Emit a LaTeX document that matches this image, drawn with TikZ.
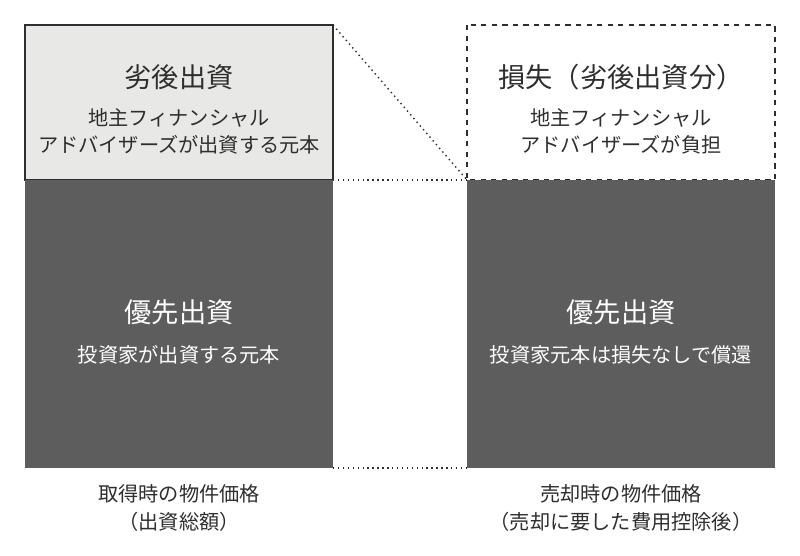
\documentclass[tikz,border=0pt]{standalone}
\usepackage{fontspec}
\setmainfont{Noto Sans CJK JP}
\usetikzlibrary{positioning}
\definecolor{lightbox}{HTML}{E8E8E6}
\definecolor{darkbox}{HTML}{5E5D5D}
\definecolor{ink}{HTML}{2E2E2E}
\begin{document}
\begin{tikzpicture}[x=0.02cm,y=-0.02cm,
  title/.style={font=\fontsize{15.5}{18}\selectfont},
  sub/.style={font=\fontsize{11.5}{15.5}\selectfont,align=center},
  caption/.style={font=\fontsize{11.5}{15.5}\selectfont,align=center,text=ink}]
				\useasboundingbox (0,0) rectangle (800,555);
				% left column
				\draw[ink,fill=lightbox,line width=0.6pt] (25,25) rectangle (333,180);
				\fill[darkbox] (25,180) rectangle (333,468);
				% right column
				\draw[ink,dashed,line width=0.6pt] (467,25) rectangle (775,180);
				\fill[darkbox] (467,180) rectangle (775,468);
				% connecting dotted lines
				\coordinate (lt) at (333,25);
				\coordinate (lm) at (333,180);
				\coordinate (lb) at (333,468);
				\coordinate (rm) at (467,180);
				\coordinate (rb) at (467,468);
				\draw[ink,dotted,line width=0.8pt] (lt) -- (rm);
				\draw[ink,dotted,line width=0.8pt] (lm) -- (rm);
				\draw[ink,dotted,line width=0.8pt] (lb) -- (rb);
				% texts
				\node[title,text=ink] (junL) at (179,77) {劣後出資};
				\node[sub,text=ink] (junLs) at (179,131) {地主フィナンシャル\\アドバイザーズが出資する元本};
				\node[title,text=ink] (junR) at (621,77) {損失（劣後出資分）};
				\node[sub,text=ink] (junRs) at (621,131) {地主フィナンシャル\\アドバイザーズが負担};
				\node[title,text=white] (senL) at (179,312) {優先出資};
				\node[sub,text=white] (senLs) at (179,355) {投資家が出資する元本};
				\node[title,text=white] (senR) at (621,312) {優先出資};
				\node[sub,text=white] (senRs) at (621,355) {投資家元本は損失なしで償還};
				\node[caption] (capL) at (179,508) {取得時の物件価格\\（出資総額）};
				\node[caption] (capR) at (621,508) {売却時の物件価格\\（売却に要した費用控除後）};
\end{tikzpicture}
\end{document}
